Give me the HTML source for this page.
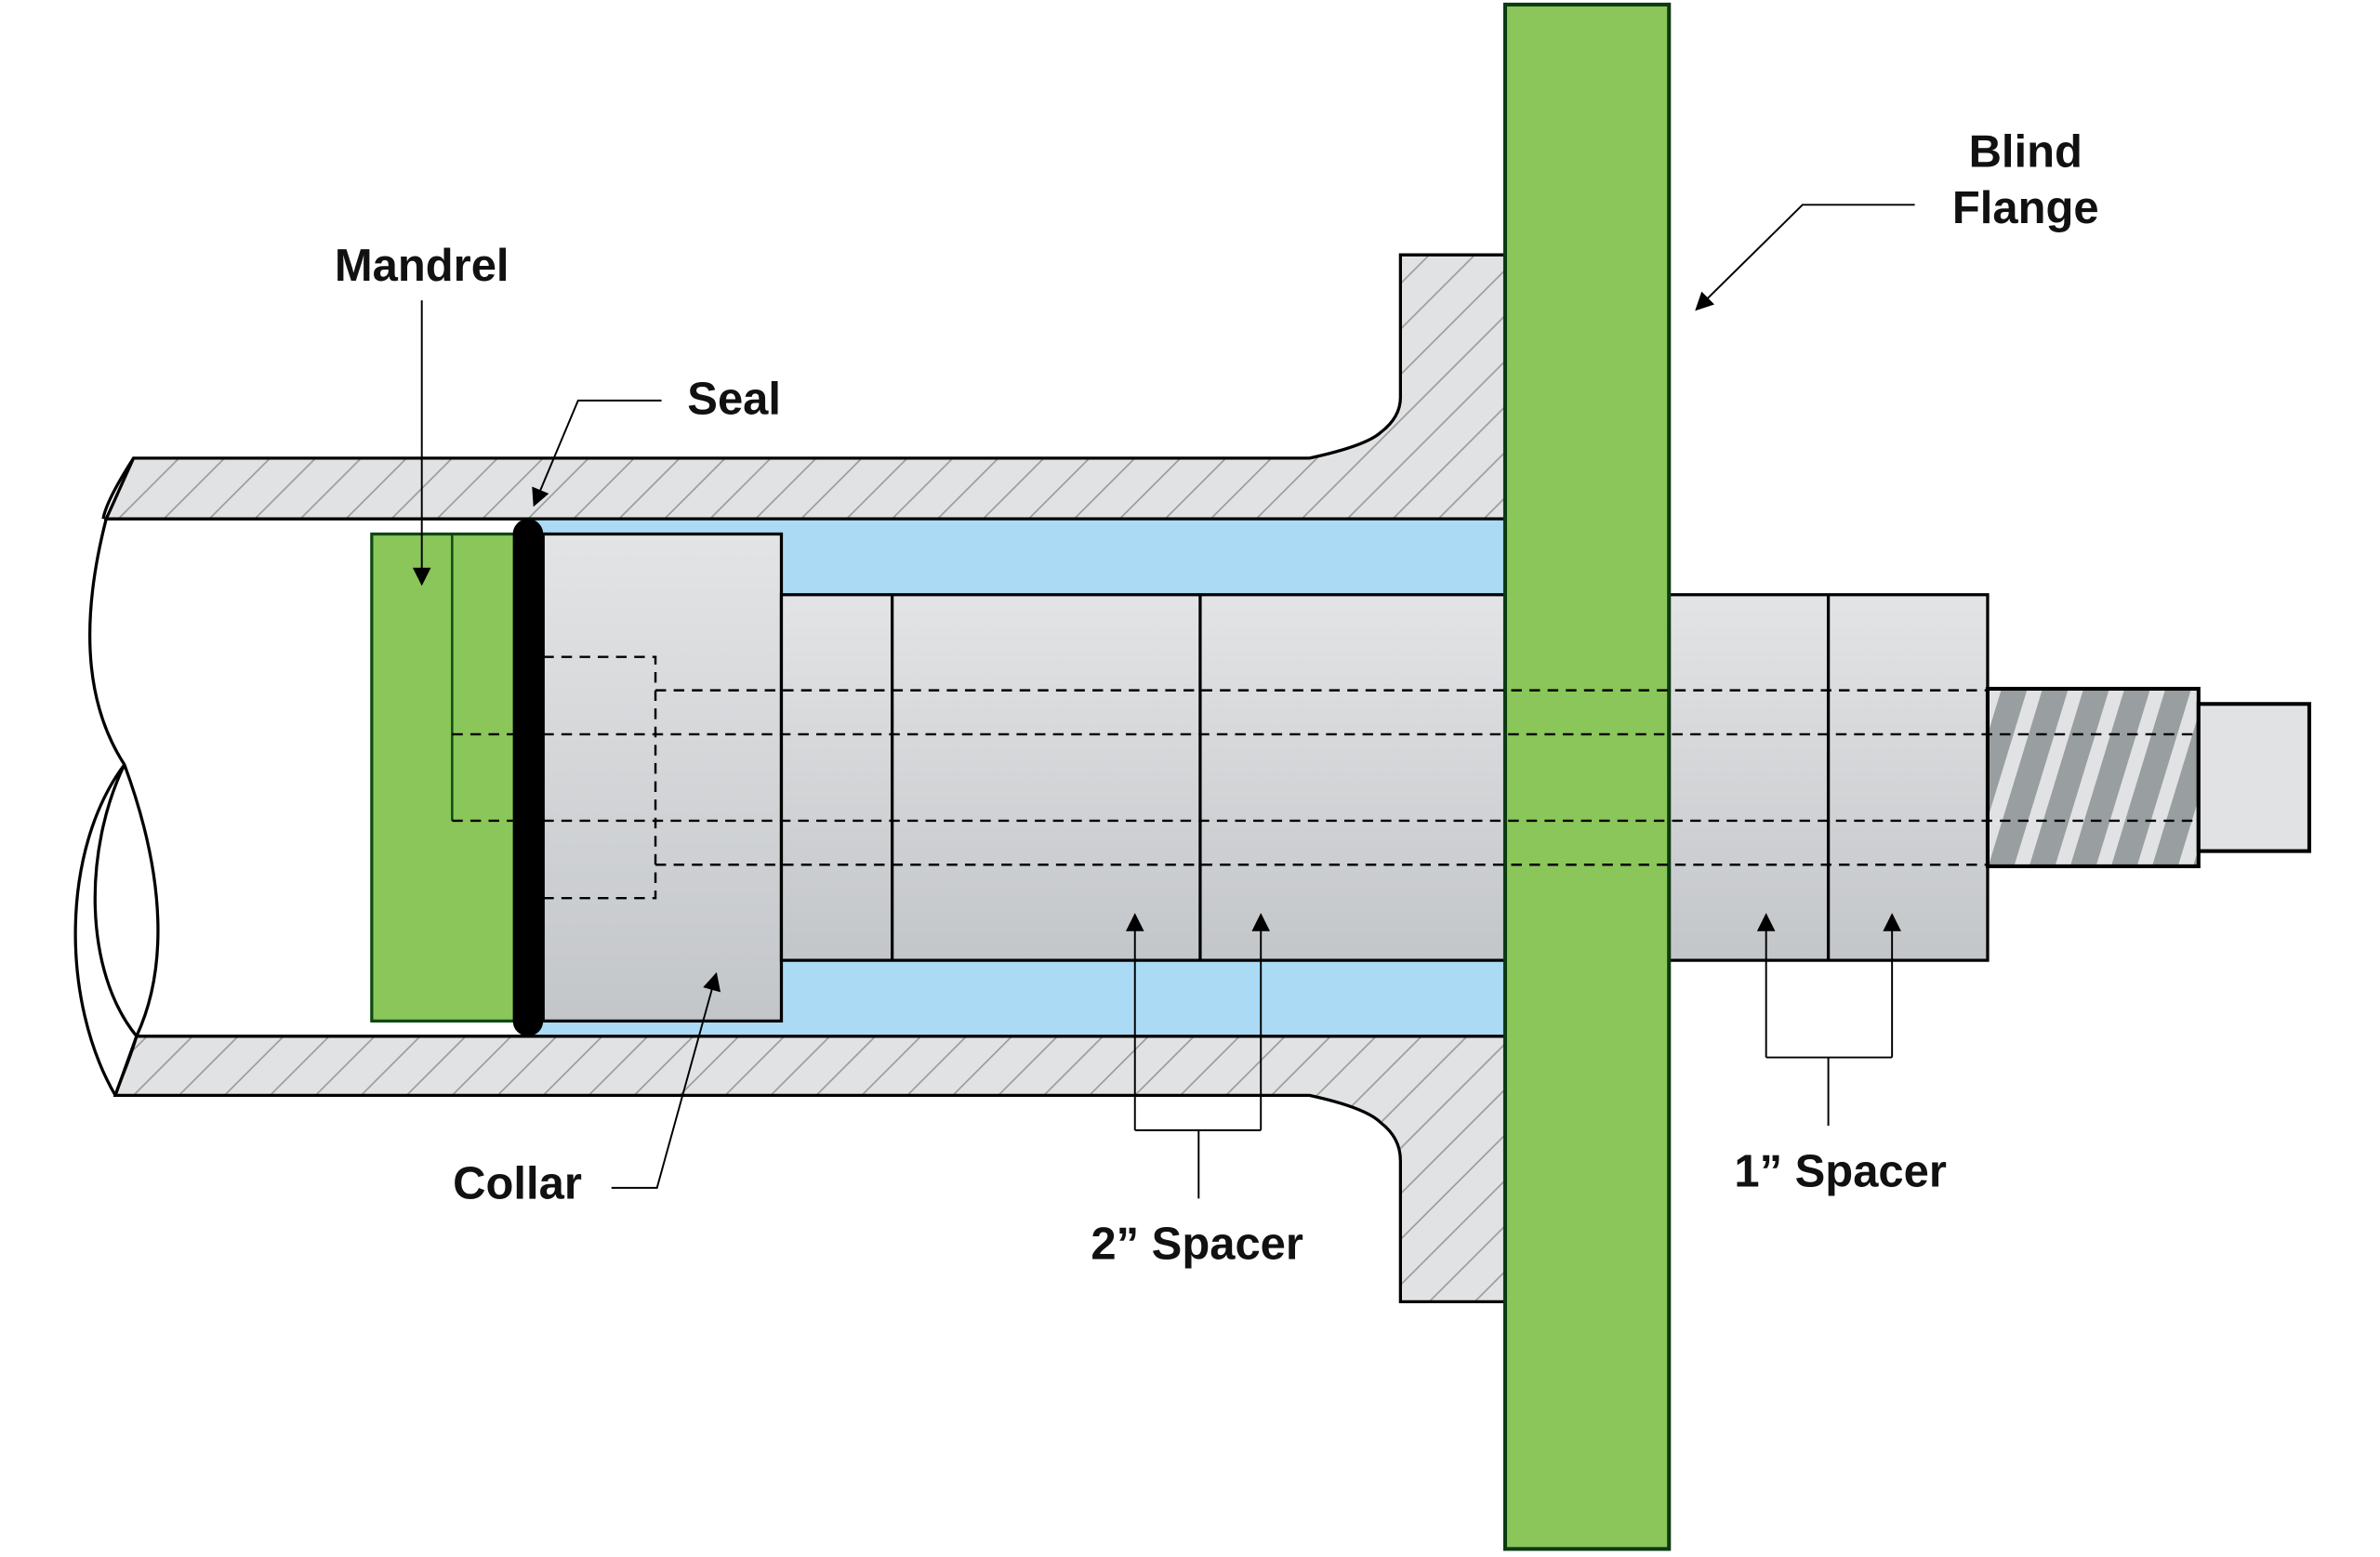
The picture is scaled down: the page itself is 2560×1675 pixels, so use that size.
<!DOCTYPE html>
<html><head><meta charset="utf-8"><style>html,body{margin:0;padding:0;background:#fff}svg{display:block}text{font-family:"Liberation Sans",sans-serif;font-size:30px;fill:#111;font-weight:bold}</style></head>
<body>
<svg width="2560" height="1675" viewBox="0 0 1568.6 1026.3" preserveAspectRatio="none" xmlns="http://www.w3.org/2000/svg">
<defs>
<pattern id="hatch" width="30" height="30" patternUnits="userSpaceOnUse">
<rect width="30" height="30" fill="#e1e2e4"/>
<path d="M-5,35 L35,-5 M-20,20 L20,-20 M10,50 L50,10" stroke="#999" stroke-width="1"/>
</pattern>
<pattern id="thread" width="27" height="120" patternUnits="userSpaceOnUse" patternTransform="skewX(-17)">
<rect width="27" height="120" fill="#e1e2e4"/>
<rect x="0" width="17" height="120" fill="#999ea1"/>
</pattern>
<linearGradient id="g" x1="0" y1="0" x2="0" y2="1">
<stop offset="0" stop-color="#e3e4e6"/><stop offset="1" stop-color="#c3c6c9"/>
</linearGradient>
<linearGradient id="g2" gradientUnits="userSpaceOnUse" x1="0" y1="392" x2="0" y2="633">
<stop offset="0" stop-color="#e3e4e6"/><stop offset="1" stop-color="#c3c6c9"/>
</linearGradient>
<marker id="ar" viewBox="0 0 10 10" refX="9" refY="5" markerWidth="13" markerHeight="12" markerUnits="userSpaceOnUse" orient="auto"><path d="M0,0 L10,5 L0,10 z" fill="#000"/></marker>
</defs>

<path d="M88,302 L863,302 Q900,294 910,285 Q923,275 923,262 L923,168 L992,168 L992,342 L70,342 Z" fill="url(#hatch)" stroke="#000" stroke-width="2"/>
<path d="M90,683 L992,683 L992,858 L923,858 L923,765 Q923,750 910,740 Q900,730 863,722 L76,722 Z" fill="url(#hatch)" stroke="#000" stroke-width="2"/>
<path d="M88,302 Q70,330 68,342" fill="none" stroke="#000" stroke-width="2"/>
<path d="M70,342 C50,420 60,470 82,504 C110,580 110,640 90,683 C85,700 80,710 76,722" fill="none" stroke="#000" stroke-width="2"/>
<path d="M82,504 C40,560 40,660 76,722" fill="none" stroke="#000" stroke-width="2"/>
<path d="M82,504 C55,560 55,640 90,683" fill="none" stroke="#000" stroke-width="2"/>

<rect x="348" y="342" width="644" height="341" fill="#abdaf5"/>
<line x1="70" y1="342" x2="992" y2="342" stroke="#000" stroke-width="2"/>
<line x1="90" y1="683" x2="992" y2="683" stroke="#000" stroke-width="2"/>

<rect x="245" y="352" width="103" height="321" fill="#8ac65a" stroke="#0d4a12" stroke-width="2"/>
<line x1="298" y1="352" x2="298" y2="541" stroke="#0d4a12" stroke-width="1.5"/>

<rect x="358" y="352" width="157" height="321" fill="url(#g)" stroke="#000" stroke-width="2"/>
<rect x="515" y="392" width="477" height="241" fill="url(#g2)" stroke="#000" stroke-width="2"/>
<line x1="588" y1="392" x2="588" y2="633" stroke="#000" stroke-width="2"/>
<line x1="791" y1="392" x2="791" y2="633" stroke="#000" stroke-width="2"/>
<rect x="1100" y="392" width="210" height="241" fill="url(#g2)" stroke="#000" stroke-width="2"/>
<line x1="1205" y1="392" x2="1205" y2="633" stroke="#000" stroke-width="2"/>
<rect x="1310" y="454" width="139" height="117" fill="url(#thread)" stroke="#000" stroke-width="2.5"/>
<rect x="1449" y="464" width="73" height="97" fill="#e1e2e4" stroke="#000" stroke-width="2.5"/>

<rect x="992" y="3" width="108" height="1018" fill="#8ac65a" stroke="#0d3a10" stroke-width="2.5"/>

<g stroke="#000" stroke-width="1.5" stroke-dasharray="7,5" fill="none">
<path d="M358,433 L432,433 L432,592 L358,592"/>
<line x1="432" y1="455" x2="1310" y2="455"/>
<line x1="432" y1="570" x2="1310" y2="570"/>
<line x1="298" y1="484" x2="1449" y2="484"/>
<line x1="298" y1="541" x2="1449" y2="541"/>
</g>

<rect x="338" y="342" width="20" height="341" rx="10" fill="#000"/>

<g stroke="#000" stroke-width="1.2" fill="none">
<line x1="278" y1="198" x2="278" y2="385" marker-end="url(#ar)"/>
<polyline points="436,264 381,264 352,333" marker-end="url(#ar)"/>
<polyline points="1262,135 1188,135 1118,204" marker-end="url(#ar)"/>
<polyline points="403,783 433,783 472,642" marker-end="url(#ar)"/>
<line x1="790" y1="790" x2="790" y2="745"/>
<polyline points="748,745 831,745"/>
<line x1="748" y1="745" x2="748" y2="603" marker-end="url(#ar)"/>
<line x1="831" y1="745" x2="831" y2="603" marker-end="url(#ar)"/>
<line x1="1205" y1="742" x2="1205" y2="697"/>
<polyline points="1164,697 1247,697"/>
<line x1="1164" y1="697" x2="1164" y2="603" marker-end="url(#ar)"/>
<line x1="1247" y1="697" x2="1247" y2="603" marker-end="url(#ar)"/>
</g>

<text x="278" y="185" text-anchor="middle">Mandrel</text>
<text x="453" y="273">Seal</text>
<text x="1335" y="110" text-anchor="middle">Blind</text>
<text x="1335" y="147" text-anchor="middle">Flange</text>
<text x="341" y="790" text-anchor="middle">Collar</text>
<text x="789" y="830" text-anchor="middle">2” Spacer</text>
<text x="1213" y="782" text-anchor="middle">1” Spacer</text>
</svg>
</body></html>
